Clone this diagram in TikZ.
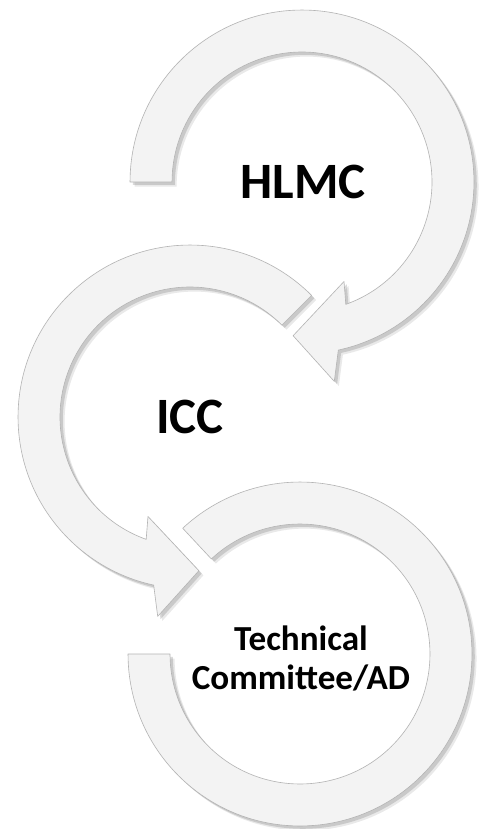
\documentclass[tikz,border=0pt]{standalone}
\usepackage{fontspec}
\setmainfont{Carlito}
\usetikzlibrary{shadows}
\definecolor{ringfill}{HTML}{F3F3F3}
\definecolor{ringedge}{HTML}{B4B4B4}
\begin{document}
\begin{tikzpicture}[x=0.02cm,y=0.02cm,
  ring/.style={fill=ringfill, draw=ringedge, line width=0.35pt, line join=round,
    drop shadow={shadow xshift=2.6pt, shadow yshift=-2.6pt, opacity=0.12, fill=black!70},
    drop shadow={shadow xshift=1.6pt, shadow yshift=-1.6pt, opacity=0.2, fill=black!70}},
  ringtext/.style={text=black, inner sep=0pt}]
\useasboundingbox[fill=white] (0,0) rectangle (480,-829);
% third ring (Technical Committee/AD)
\draw[ring, shift={(300,-654)}] (180:3.44cm) arc[start angle=180, end angle=493, radius=3.44cm]
  -- (493:2.6cm) arc[start angle=493, end angle=180, radius=2.6cm] -- cycle;
% second arrow (ICC)
\draw[ring, shift={(190,-417)}] (45:3.44cm) arc[start angle=45, end angle=257.8, radius=3.44cm]
  -- (260.8:4.04cm) -- (273.3:3.08cm) -- (247.1:2.16cm) -- (250.3:2.6cm)
  arc[start angle=250.3, end angle=45, radius=2.6cm] -- cycle;
% first arrow (HLMC)
\draw[ring, shift={(302,-182)}] (180:3.44cm) arc[start angle=180, end angle=-77.8, radius=3.44cm]
  -- (-80.8:4.04cm) -- (-93.3:3.08cm) -- (-67.1:2.16cm) -- (-70.3:2.6cm)
  arc[start angle=-70.3, end angle=180, radius=2.6cm] -- cycle;
\node[ringtext, font=\bfseries\fontsize{29}{35}\selectfont] (hlmc) at (303,-182) {HLMC};
\node[ringtext, font=\bfseries\fontsize{29}{35}\selectfont] (icc) at (190,-417) {ICC};
\node[ringtext, align=center, font=\bfseries\fontsize{20}{22.2}\selectfont] (tc) at (301,-658) {Technical\\Committee/AD};
\end{tikzpicture}
\end{document}
